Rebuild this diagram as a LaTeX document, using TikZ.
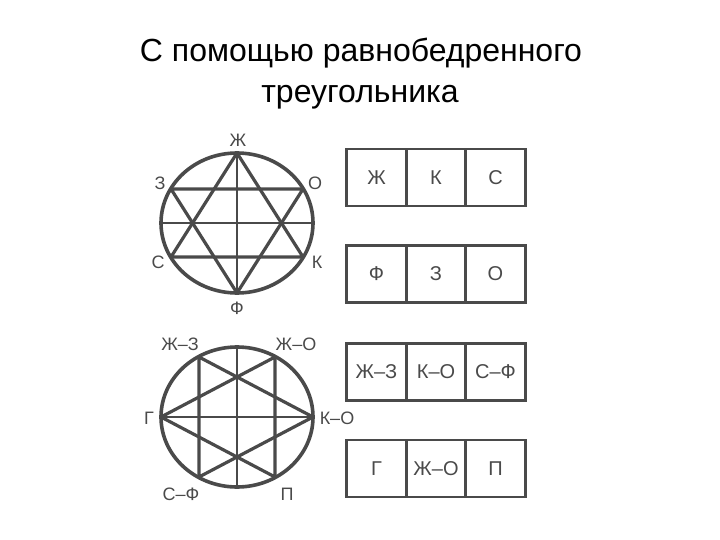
\documentclass[tikz,border=0pt]{standalone}
\usepackage{fontspec}
\setmainfont{Liberation Sans}
\definecolor{ink}{HTML}{4A4A4A}
\begin{document}
\begin{tikzpicture}[x=1pt,y=-1pt,
  thick line/.style={draw=ink,line width=3.2pt,line join=round,line cap=round},
  thin line/.style={draw=ink,line width=1.3pt},
  rim/.style={draw=ink,line width=3.6pt},
  lbl/.style={text=ink,font=\fontsize{18}{18}\selectfont,inner sep=0pt},
  cell/.style={draw=ink,line width=2.8pt,minimum width=59.5pt,minimum height=57pt,inner sep=0pt,text=ink,font=\fontsize{20}{20}\selectfont},
  ttl/.style={font=\fontsize{32}{32}\selectfont,text=black,inner sep=0pt,anchor=base}]
\useasboundingbox (0,0) rectangle (720,540);
\node[ttl] (title1) at (361,62) {С помощью равнобедренного};
\node[ttl] (title2) at (360,103) {треугольника};
% top circle
\coordinate (c1) at (237,223);
\coordinate (Zh) at (237,153);
\coordinate (F) at (237,293);
\coordinate (Z) at (171,189);
\coordinate (O) at (303,189);
\coordinate (S) at (171,257);
\coordinate (K) at (303,257);
\coordinate (L1) at (161,223);
\coordinate (R1) at (313,223);
\draw[thin line] (Zh) -- (F);
\draw[thin line] (L1) -- (R1);
\draw[thick line] (Zh) -- (S) -- (K) -- cycle;
\draw[thick line] (F) -- (Z) -- (O) -- cycle;
\draw[rim] (c1) ellipse [x radius=76, y radius=70];
\node[lbl] (tZh) at (238,140) {Ж};
\node[lbl] (tZ) at (160,183) {З};
\node[lbl] (tO) at (315,183) {О};
\node[lbl] (tS) at (158,262) {С};
\node[lbl] (tK) at (317,262) {К};
\node[lbl] (tF) at (237,308) {Ф};
% bottom circle
\coordinate (c2) at (237,417);
\coordinate (G) at (161,417);
\coordinate (KO) at (313,417);
\coordinate (ZhZ) at (199,357);
\coordinate (ZhO) at (275,357);
\coordinate (SF) at (199,477);
\coordinate (P) at (275,477);
\coordinate (T2) at (237,347);
\coordinate (B2) at (237,487);
\draw[thin line] (T2) -- (B2);
\draw[thin line] (G) -- (KO);
\draw[thick line] (G) -- (ZhO) -- (P) -- cycle;
\draw[thick line] (KO) -- (ZhZ) -- (SF) -- cycle;
\draw[rim] (c2) ellipse [x radius=76, y radius=70];
\node[lbl] (tZhZ) at (180,344) {Ж–З};
\node[lbl] (tZhO) at (296,344) {Ж–О};
\node[lbl] (tG) at (149,418) {Г};
\node[lbl] (tKO) at (337,418) {К–О};
\node[lbl] (tSF) at (181,494) {С–Ф};
\node[lbl] (tP) at (287,494) {П};
% boxes
\node[cell] (a1) at (376.5,177.5) {Ж};
\node[cell] (a2) at (436,177.5) {К};
\node[cell] (a3) at (495.5,177.5) {С};
\node[cell] (b1) at (376.5,274) {Ф};
\node[cell] (b2) at (436,274) {З};
\node[cell] (b3) at (495.5,274) {О};
\node[cell] (c1b) at (376.5,372) {Ж–З};
\node[cell] (c2b) at (436,372) {К–О};
\node[cell] (c3b) at (495.5,372) {С–Ф};
\node[cell] (d1) at (376.5,468.5) {Г};
\node[cell] (d2) at (436,468.5) {Ж–О};
\node[cell] (d3) at (495.5,468.5) {П};
\end{tikzpicture}
\end{document}
